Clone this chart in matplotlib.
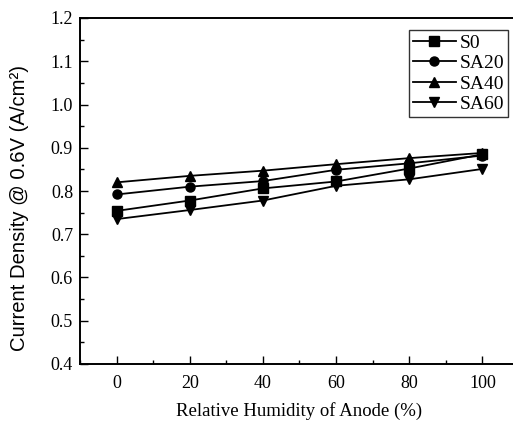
import matplotlib
matplotlib.use("Agg")
import matplotlib.pyplot as plt
from matplotlib.ticker import MultipleLocator, FormatStrFormatter

humidity = [0, 20, 40, 60, 80, 100]
s0 = [0.754, 0.778, 0.806, 0.822, 0.852, 0.885]
sa20 = [0.792, 0.810, 0.823, 0.849, 0.864, 0.882]
sa40 = [0.820, 0.835, 0.847, 0.862, 0.876, 0.888]
sa60 = [0.735, 0.756, 0.778, 0.812, 0.827, 0.851]
series = [("S0", s0, "s"), ("SA20", sa20, "o"), ("SA40", sa40, "^"), ("SA60", sa60, "v")]

plt.rcParams['font.family'] = ['Liberation Serif', 'DejaVu Serif']
fig = plt.figure(figsize=(5.13, 4.24), dpi=100)
ax = fig.add_axes([80/513, 60/424, 439/513, 346/424])

for name, vals, m in series:
    ax.plot(humidity, vals, color='black', marker=m, markersize=6.5, linewidth=1.3, label=name)

ax.set_xlim(-10, 110)
ax.set_ylim(0.4, 1.2)
ax.xaxis.set_major_locator(MultipleLocator(20))
ax.xaxis.set_minor_locator(MultipleLocator(10))
ax.yaxis.set_major_locator(MultipleLocator(0.1))
ax.yaxis.set_minor_locator(MultipleLocator(0.05))
ax.tick_params(which='both', direction='in', labelsize=13, top=False, right=False)
ax.tick_params(axis='x', pad=8)
ax.tick_params(axis='y', pad=5)
ax.tick_params(which='major', length=6, width=1)
ax.tick_params(which='minor', length=3, width=1)
ax.yaxis.set_major_formatter(FormatStrFormatter('%.1f'))
for sp in ax.spines.values():
    sp.set_linewidth(1.4)

ax.set_xlabel("Relative Humidity of Anode (%)", fontsize=13.5, labelpad=7)
ax.set_ylabel("Current Density @ 0.6V (A/cm²)", fontsize=14.6,
              family=['Liberation Sans', 'DejaVu Sans'])
ax.yaxis.set_label_coords((29-80)/439, (364-208)/346)

leg = ax.legend(loc='upper left', bbox_to_anchor=((409-80)/439, (364-30)/346),
                frameon=True, fancybox=False, edgecolor='black', fontsize=14,
                handlelength=2.2, borderpad=0.2, labelspacing=0.15, handletextpad=0.2,
                borderaxespad=0)
leg.get_frame().set_linewidth(1.0)

fig.savefig("out.png", dpi=100)
